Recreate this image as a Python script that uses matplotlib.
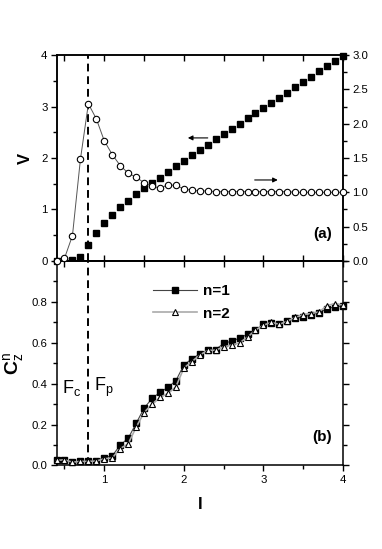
import matplotlib
matplotlib.use("Agg")
import matplotlib.pyplot as plt
from matplotlib.ticker import MultipleLocator, FixedLocator, NullFormatter

plt.rcParams["font.family"] = ["Liberation Sans", "DejaVu Sans"]
plt.rcParams["mathtext.fontset"] = "custom"
plt.rcParams["mathtext.rm"] = "Liberation Sans"
plt.rcParams["mathtext.bf"] = "Liberation Sans:bold"
plt.rcParams["mathtext.it"] = "Liberation Sans:italic"

# data
current = [0.4, 0.5, 0.6, 0.7, 0.8, 0.9, 1.0, 1.1, 1.2, 1.3, 1.4, 1.5, 1.6,
           1.7, 1.8, 1.9, 2.0, 2.1, 2.2, 2.3, 2.4, 2.5, 2.6, 2.7, 2.8, 2.9,
           3.0, 3.1, 3.2, 3.3, 3.4, 3.5, 3.6, 3.7, 3.8, 3.9, 4.0]
voltage = [0.0, 0.0, 0.01, 0.07, 0.31, 0.55, 0.73, 0.89, 1.04, 1.17, 1.30,
           1.41, 1.52, 1.62, 1.73, 1.85, 1.95, 2.05, 2.15, 2.26, 2.37, 2.46,
           2.57, 2.66, 2.77, 2.87, 2.97, 3.07, 3.17, 3.27, 3.38, 3.47, 3.58,
           3.68, 3.78, 3.88, 3.99]
right_series = [0.0, 0.04, 0.37, 1.48, 2.29, 2.07, 1.75, 1.55, 1.39, 1.28,
                1.22, 1.14, 1.09, 1.06, 1.11, 1.10, 1.05, 1.03, 1.02, 1.02,
                1.01, 1.01, 1.01, 1.01, 1.01, 1.01, 1.01, 1.01, 1.01, 1.01,
                1.0, 1.0, 1.0, 1.0, 1.0, 1.0, 1.0]
cz_n1 = [0.028, 0.028, 0.016, 0.02, 0.02, 0.023, 0.039, 0.047, 0.10, 0.133,
         0.206, 0.28, 0.328, 0.358, 0.382, 0.415, 0.492, 0.521, 0.546, 0.563,
         0.567, 0.597, 0.608, 0.623, 0.642, 0.662, 0.69, 0.698, 0.691, 0.706,
         0.719, 0.727, 0.737, 0.748, 0.767, 0.776, 0.78]
cz_n2 = [0.025, 0.028, 0.016, 0.02, 0.02, 0.022, 0.033, 0.037, 0.083, 0.106,
         0.187, 0.259, 0.30, 0.333, 0.353, 0.385, 0.477, 0.508, 0.54, 0.563,
         0.564, 0.58, 0.589, 0.60, 0.628, 0.662, 0.686, 0.70, 0.69, 0.706,
         0.724, 0.738, 0.743, 0.751, 0.782, 0.792, 0.784]
legend_labels = ["n=1", "n=2"]
transition = 0.8

fig = plt.figure(figsize=(3.82, 5.49), dpi=100)
ax_a = fig.add_axes([0.148, 0.5246, 0.750, 0.3752])
ax_b = fig.add_axes([0.148, 0.1521, 0.750, 0.3725])
ax_r = ax_a.twinx()

tick_font = 8.2
for ax in (ax_a, ax_b, ax_r):
    for s in ax.spines.values():
        s.set_linewidth(1.1)


def style_y(ax):
    ax.tick_params(axis="y", which="both", direction="out", width=1,
                   labelsize=tick_font, pad=2)
    ax.tick_params(axis="y", which="major", length=4.5)
    ax.tick_params(axis="y", which="minor", length=3)


# panel (a)
ax_a.plot(current, voltage, "s", color="black", ms=4.6, clip_on=False, zorder=4)
ax_r.plot(current, right_series, "-o", color="#555555", lw=0.7, ms=4.6,
          mfc="white", mec="black", mew=0.8, clip_on=False, zorder=3)
ax_a.set_xlim(0.4, 4.0)
ax_a.set_ylim(0, 4)
ax_r.set_ylim(0, 3.0)
ax_a.yaxis.set_major_locator(MultipleLocator(1))
ax_a.yaxis.set_minor_locator(MultipleLocator(0.5))
ax_r.yaxis.set_major_locator(MultipleLocator(0.5))
ax_r.yaxis.set_minor_locator(MultipleLocator(0.25))
ax_r.yaxis.set_major_formatter(plt.FormatStrFormatter("%.1f"))
ax_a.xaxis.set_major_locator(MultipleLocator(1))
ax_a.xaxis.set_minor_locator(MultipleLocator(0.5))
ax_a.tick_params(axis="x", which="both", direction="in", top=True,
                 labelbottom=False, width=1)
ax_a.tick_params(axis="x", which="major", length=4.5)
ax_a.tick_params(axis="x", which="minor", length=4.0)
style_y(ax_a)
style_y(ax_r)
ax_a.set_ylabel("V", fontsize=12, fontweight="bold", labelpad=6)
ax_a.text(0.96, 0.13, "(a)", transform=ax_a.transAxes, ha="right",
          va="center", fontsize=11, fontweight="bold")
ax_a.annotate("", xy=(2.05, 2.39), xytext=(2.3, 2.39),
              arrowprops=dict(arrowstyle="-|>", color="black", lw=0.8,
                              mutation_scale=7, shrinkA=0, shrinkB=0))
ax_r.annotate("", xy=(3.18, 1.18), xytext=(2.89, 1.18),
              arrowprops=dict(arrowstyle="-|>", color="black", lw=0.8,
                              mutation_scale=7, shrinkA=0, shrinkB=0))
ax_a.axvline(transition, color="black", ls=(0, (4, 2.5)), lw=1.4, zorder=2)

# panel (b)
ax_b.plot(current, cz_n1, "-s", color="#444444", lw=0.8, ms=4.6,
          mfc="black", mec="black", clip_on=False, zorder=4,
          label=legend_labels[0])
ax_b.plot(current, cz_n2, "-^", color="#aaaaaa", lw=1.2, ms=4.8,
          mfc="white", mec="black", mew=0.8, clip_on=False, zorder=5,
          label=legend_labels[1])
ax_b.set_xlim(0.4, 4.0)
ax_b.set_ylim(0, 1.0)
ax_b.yaxis.set_major_locator(FixedLocator([0.0, 0.2, 0.4, 0.6, 0.8]))
ax_b.yaxis.set_minor_locator(MultipleLocator(0.1))
ax_b.yaxis.set_major_formatter(plt.FormatStrFormatter("%.1f"))
ax_b.xaxis.set_major_locator(MultipleLocator(1))
ax_b.xaxis.set_minor_locator(MultipleLocator(0.5))
ax_b.tick_params(axis="x", which="both", direction="out", width=1,
                 labelsize=tick_font, pad=2)
ax_b.tick_params(axis="x", which="major", length=4.5)
ax_b.tick_params(axis="x", which="minor", length=3)
style_y(ax_b)
ax_b.tick_params(axis="y", which="both", right=True)

# inward ticks along the shared border
top_b = ax_b.secondary_xaxis("top")
top_b.xaxis.set_major_locator(MultipleLocator(1))
top_b.xaxis.set_minor_locator(MultipleLocator(0.5))
top_b.xaxis.set_major_formatter(NullFormatter())
top_b.tick_params(axis="x", which="both", direction="in", width=1)
top_b.tick_params(axis="x", which="major", length=4.5)
top_b.tick_params(axis="x", which="minor", length=4.0)
top_b.spines["top"].set_linewidth(1.1)

ax_b.set_ylabel(r"$\mathbf{C}_\mathrm{z}^\mathrm{n}$", fontsize=14,
                labelpad=4)
ax_b.set_xlabel("I", fontsize=12, fontweight="bold", labelpad=9)
ax_b.axvline(transition, color="black", ls=(0, (4, 2.5)), lw=1.4, zorder=2)
ax_b.text(0.47, 0.38, r"$\mathrm{F}_\mathrm{c}$", fontsize=13,
          va="center", ha="left")
ax_b.text(0.87, 0.38, r"$\mathrm{F}_\mathrm{p}$", fontsize=13,
          va="center", ha="left")
ax_b.text(0.96, 0.14, "(b)", transform=ax_b.transAxes, ha="right",
          va="center", fontsize=11, fontweight="bold")
leg = ax_b.legend(loc="center left", bbox_to_anchor=(0.337, 0.797),
                  frameon=False, borderpad=0, borderaxespad=0,
                  handlelength=2.9, handletextpad=0.35, labelspacing=0.55,
                  prop={"size": 11, "weight": "bold"})

fig.savefig("out.png", dpi=100)
